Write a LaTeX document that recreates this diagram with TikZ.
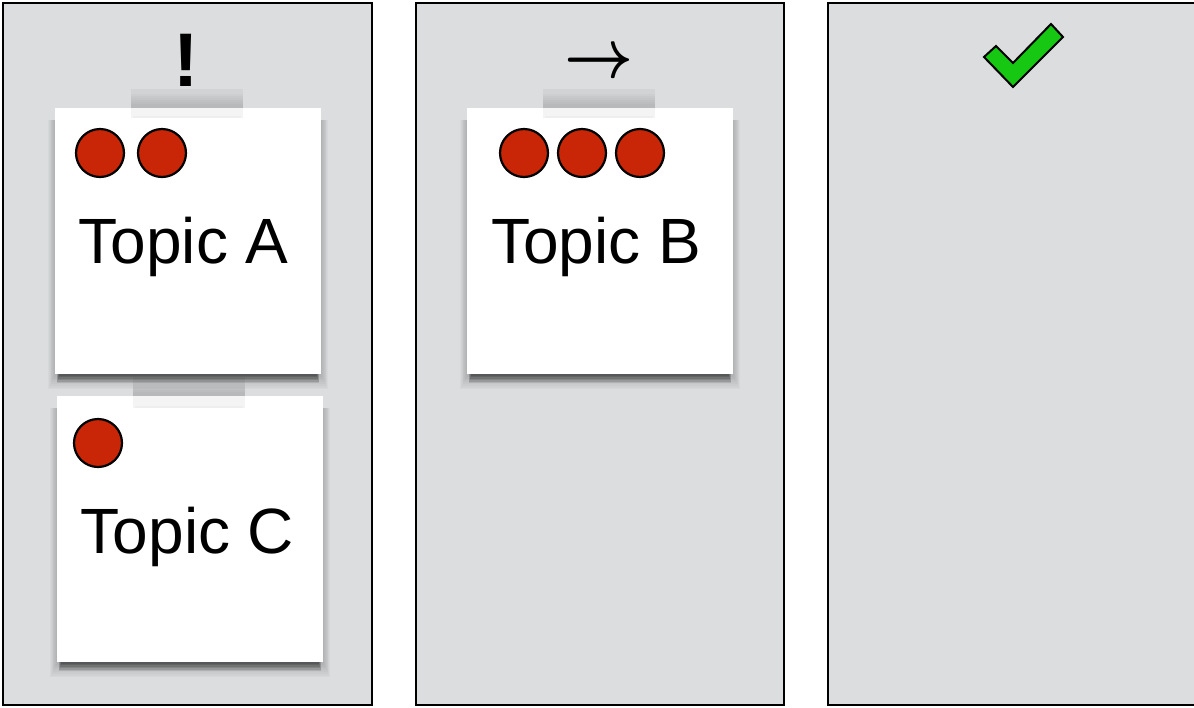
\documentclass[tikz,border=0pt]{standalone}
\usepackage{fontspec}
\setmainfont{Liberation Sans}
\usepackage{graphicx}
\definecolor{boardgray}{RGB}{220,221,223}
\definecolor{dotred}{RGB}{200,38,6}
\definecolor{checkgreen}{RGB}{22,200,18}

% soft drop shadow under a sticky note with corners (#1,#2)-(#3,#4)
\newcommand\stickyshadow[4]{%
  \foreach \i in {1,...,8}{%
    \fill[black,opacity=0.025] (#1-\i*0.9,#2+12) rectangle (#3+\i*0.9,#4+1+\i*1.8);
  }%
  \foreach \i in {0,...,5}{%
    \fill[black,opacity=0.11] (#1+4-\i*0.4,#4-1) rectangle (#3-4+\i*0.4,#4+2+\i*1.4);
  }%
}
% strip of tape centred on the top edge of a note
\newcommand\tape[4]{%
  \fill[black,opacity=0.045] (#1,#2) rectangle (#3,#4);
  \foreach \i in {0,...,5}{%
    \fill[black,opacity=0.018] (#1,#2+5+\i*2) rectangle (#3,#2+19);
  }%
  \fill[black,opacity=0.025] (#1+2,#4-2) rectangle (#3-2,#4);
}

\begin{document}
\begin{tikzpicture}[x=0.5pt,y=-0.5pt,
  column/.style={draw=black,line width=1pt,fill=boardgray},
  sticky/.style={fill=white,inner sep=0pt,outer sep=0pt,anchor=north west,
                 minimum width=133pt,minimum height=133pt},
  dot/.style={circle,draw=black,line width=1.1pt,fill=dotred,
              minimum size=24pt,inner sep=0pt},
  topic/.style={font=\fontsize{32}{38}\selectfont,anchor=base,inner sep=0pt},
  header/.style={inner sep=0pt},
]
\useasboundingbox (0,0) rectangle (1194,707);
\clip (0,0) rectangle (1194,707);
\fill[white] (0,0) rectangle (1194,707);

% the three board columns
\draw[column] (3,3) rectangle (372,705);
\draw[column] (416,3) rectangle (784,705);
\draw[column] (828,3) rectangle (1200,705);

% column headers
\node[header,font=\bfseries\fontsize{38}{40}\selectfont,anchor=base] (urgent) at (186,86) {!};
\node[header] (doing) at (599,64) {\resizebox{34.5pt}{13.5pt}{\boldmath$\rightarrow$}};
\draw[fill=checkgreen,line width=1pt,line join=miter]
  (984,57) -- (996,46) -- (1013,63) -- (1051,24) -- (1063,37) -- (1013,87) -- cycle;

% sticky note A
\stickyshadow{55}{108}{321}{374}
\node[sticky] (noteA) at (55,108) {};
\tape{131}{89}{243}{118}
\node[dot] (a1) at (100,153) {};
\node[dot] (a2) at (162,153) {};
\node[topic] (topicA) at (183.5,263) {Topic A};

% sticky note C
\stickyshadow{57}{396}{323}{662}
\node[sticky] (noteC) at (57,396) {};
\tape{133}{377}{245}{408}
\node[dot] (c1) at (98,443) {};
\node[topic] (topicC) at (187.5,553) {Topic C};

% sticky note B
\stickyshadow{467}{108}{733}{374}
\node[sticky] (noteB) at (467,108) {};
\tape{543}{89}{655}{118}
\node[dot] (b1) at (524,153) {};
\node[dot] (b2) at (582,153) {};
\node[dot] (b3) at (640,153) {};
\node[topic] (topicB) at (596,263) {Topic B};
\end{tikzpicture}
\end{document}
